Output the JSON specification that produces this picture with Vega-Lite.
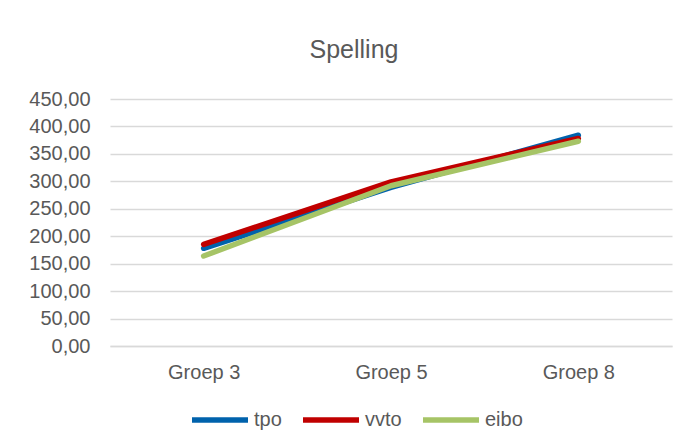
{
  "$schema": "https://vega.github.io/schema/vega-lite/v6.json",
  "autosize": {"type": "none"},
  "width": 562,
  "height": 247,
  "padding": {"left": 110, "top": 99, "right": 22, "bottom": 100},
  "background": "white",
  "title": {
    "text": "Spelling",
    "font": "Liberation Sans",
    "fontSize": 25,
    "fontWeight": "normal",
    "color": "#595959",
    "anchor": "middle",
    "frame": "group",
    "dx": -37,
    "baseline": "alphabetic",
    "offset": 6
  },
  "data": {
    "values": [
      {"groep": "Groep 3", "serie": "tpo", "score": 178},
      {"groep": "Groep 5", "serie": "tpo", "score": 289},
      {"groep": "Groep 8", "serie": "tpo", "score": 384},
      {"groep": "Groep 3", "serie": "vvto", "score": 185},
      {"groep": "Groep 5", "serie": "vvto", "score": 299},
      {"groep": "Groep 8", "serie": "vvto", "score": 378},
      {"groep": "Groep 3", "serie": "eibo", "score": 164},
      {"groep": "Groep 5", "serie": "eibo", "score": 292},
      {"groep": "Groep 8", "serie": "eibo", "score": 373}
    ]
  },
  "mark": {"type": "line", "strokeWidth": 5.5, "strokeCap": "round", "strokeJoin": "round"},
  "encoding": {
    "x": {
      "field": "groep",
      "type": "ordinal",
      "scale": {"type": "point", "padding": 0.5},
      "axis": {
        "title": null,
        "labelAngle": 0,
        "labelFont": "Liberation Sans",
        "labelFontSize": 20,
        "labelColor": "#595959",
        "labelPadding": 16,
        "ticks": false,
        "domainColor": "#D9D9D9",
        "domainWidth": 1.5,
        "grid": false
      }
    },
    "y": {
      "field": "score",
      "type": "quantitative",
      "scale": {"domain": [0, 450], "nice": false},
      "axis": {
        "title": null,
        "values": [0, 50, 100, 150, 200, 250, 300, 350, 400, 450],
        "labelExpr": "replace(format(datum.value, '.2f'), '.', ',')",
        "labelFont": "Liberation Sans",
        "labelFontSize": 20,
        "labelColor": "#595959",
        "labelPadding": 20,
        "ticks": false,
        "domain": false,
        "gridColor": "#D9D9D9",
        "gridWidth": 1.5
      }
    },
    "color": {
      "field": "serie",
      "type": "nominal",
      "sort": ["tpo", "vvto", "eibo"],
      "scale": {"domain": ["tpo", "vvto", "eibo"], "range": ["#0062AC", "#C00000", "#A6C466"]},
      "legend": {
        "title": null,
        "orient": "none",
        "legendX": 79,
        "legendY": 290,
        "direction": "horizontal",
        "symbolType": "stroke",
        "symbolSize": 3136,
        "symbolStrokeWidth": 5.5,
        "labelFont": "Liberation Sans",
        "labelFontSize": 20,
        "labelColor": "#595959",
        "labelOffset": 3,
        "columnPadding": 10
      }
    }
  },
  "config": {
    "view": {"stroke": null}
  }
}
